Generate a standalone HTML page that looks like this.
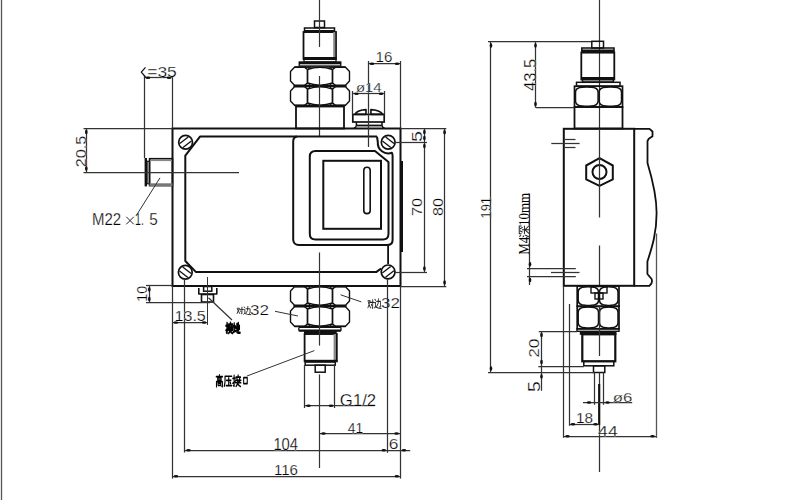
<!DOCTYPE html>
<html><head><meta charset="utf-8"><style>
html,body{margin:0;padding:0;background:#fff;width:800px;height:500px;overflow:hidden}
svg{display:block}
text{font-family:"Liberation Sans",sans-serif}
</style></head><body>
<svg width="800" height="500" viewBox="0 0 800 500">
<rect width="800" height="500" fill="#fff"/>
<line x1="1.5" y1="0" x2="1.5" y2="500" stroke="#555" stroke-width="1.3"/>
<rect x="314.5" y="21" width="10.0" height="6.5" stroke="#111" stroke-width="1.5" fill="none" rx="0"/>
<rect x="304.5" y="28" width="30.0" height="4" stroke="#111" stroke-width="1.5" fill="none" rx="0"/>
<rect x="304" y="30" width="31" height="2.5" fill="#111"/>
<rect x="303.5" y="32" width="32.5" height="27" stroke="#111" stroke-width="1.8" fill="none" rx="0"/>
<rect x="333.2" y="32" width="2.0" height="27" fill="#888"/>
<rect x="303" y="57" width="33.5" height="2.5" fill="#111"/>
<rect x="304" y="59.3" width="32" height="2.700000000000003" stroke="#111" stroke-width="1.2" fill="none" rx="0"/>
<rect x="299" y="61.8" width="42" height="2.5" fill="#111"/>
<rect x="299.2" y="62" width="41.60000000000002" height="4" stroke="#111" stroke-width="1.3" fill="none" rx="0"/>
<path d="M294.5,67.3 H304.5 L307.5,69.5 V83 L304.5,85.2 H294.5 L290.5,81 V71.5 Z" stroke="#111" stroke-width="1.4" fill="none" stroke-linejoin="round"/>
<path d="M345.5,67.3 H335.5 L332.5,69.5 V83 L335.5,85.2 H345.5 L349.5,81 V71.5 Z" stroke="#111" stroke-width="1.4" fill="none" stroke-linejoin="round"/>
<path d="M307.5,69.5 Q320.0,65.3 332.5,69.5 V83 Q320.0,87.2 307.5,83 Z" stroke="#111" stroke-width="1.4" fill="none" stroke-linejoin="round"/>
<path d="M304.5,67.3 H310.5 L307.5,69.5 Z" stroke="#111" stroke-width="1.0" fill="none" stroke-linejoin="round"/>
<path d="M304.5,85.2 H310.5 L307.5,83 Z" stroke="#111" stroke-width="1.0" fill="none" stroke-linejoin="round"/>
<path d="M329.5,67.3 H335.5 L332.5,69.5 Z" stroke="#111" stroke-width="1.0" fill="none" stroke-linejoin="round"/>
<path d="M329.5,85.2 H335.5 L332.5,83 Z" stroke="#111" stroke-width="1.0" fill="none" stroke-linejoin="round"/>
<path d="M294.5,86.8 H304.5 L307.5,89 V103 L304.5,105.2 H294.5 L290.5,101 V91 Z" stroke="#111" stroke-width="1.4" fill="none" stroke-linejoin="round"/>
<path d="M345.5,86.8 H335.5 L332.5,89 V103 L335.5,105.2 H345.5 L349.5,101 V91 Z" stroke="#111" stroke-width="1.4" fill="none" stroke-linejoin="round"/>
<path d="M307.5,89 Q320.0,84.8 332.5,89 V103 Q320.0,107.2 307.5,103 Z" stroke="#111" stroke-width="1.4" fill="none" stroke-linejoin="round"/>
<path d="M304.5,86.8 H310.5 L307.5,89 Z" stroke="#111" stroke-width="1.0" fill="none" stroke-linejoin="round"/>
<path d="M304.5,105.2 H310.5 L307.5,103 Z" stroke="#111" stroke-width="1.0" fill="none" stroke-linejoin="round"/>
<path d="M329.5,86.8 H335.5 L332.5,89 Z" stroke="#111" stroke-width="1.0" fill="none" stroke-linejoin="round"/>
<path d="M329.5,105.2 H335.5 L332.5,103 Z" stroke="#111" stroke-width="1.0" fill="none" stroke-linejoin="round"/>
<line x1="293.5" y1="86" x2="346.5" y2="86" stroke="#111" stroke-width="2.2"/>
<line x1="294.5" y1="67.0" x2="345.5" y2="67.0" stroke="#111" stroke-width="1.6"/>
<line x1="294.5" y1="105.5" x2="345.5" y2="105.5" stroke="#111" stroke-width="1.6"/>
<rect x="296" y="106.5" width="48" height="22.0" stroke="#111" stroke-width="1.8" fill="none" rx="0"/>
<line x1="319.5" y1="0" x2="319.5" y2="47" stroke="#333" stroke-width="1.2"/>
<line x1="319.5" y1="76" x2="319.5" y2="137" stroke="#333" stroke-width="1.2"/>
<rect x="172.5" y="128.5" width="228.0" height="157.5" stroke="#111" stroke-width="2.0" fill="none" rx="0"/>
<rect x="400" y="161" width="3" height="91" fill="#111"/>
<path d="M297,136.6 H200 L185.3,155.6 V261 L195.8,271.9 H376.5 L381,268.5" stroke="#111" stroke-width="2.0" fill="none" stroke-linejoin="round"/>
<path d="M377,136.6 H298 Q293.2,136.6 293.2,141.5 V239.5 Q293.4,245 299,245 H387 Q392.6,245 392.6,240 V156 Q392.6,154 391.9,152.7 A10.5,10.5 0 0 1 377.8,142 L377,136.6" stroke="#111" stroke-width="2.0" fill="none" stroke-linejoin="round"/>
<line x1="388.1" y1="245" x2="388.1" y2="264" stroke="#111" stroke-width="1.8"/>
<path d="M315.5,151 H375 L388.5,162 V234 Q388.3,239.5 383,239.5 H315.5 Q309.8,239.5 309.8,234 V156.5 Q309.8,151 315.5,151 Z" stroke="#111" stroke-width="2.0" fill="none" stroke-linejoin="round"/>
<rect x="323.3" y="160.8" width="57.69999999999999" height="68.0" stroke="#111" stroke-width="2.0" fill="none" rx="0"/>
<rect x="363.8" y="167.3" width="6.399999999999977" height="46.29999999999998" stroke="#111" stroke-width="1.6" fill="none" rx="3.2"/>
<circle cx="185.6" cy="142.3" r="6.9" stroke="#111" stroke-width="1.7" fill="none"/>
<line x1="179.79999999999998" y1="143.5" x2="188.2" y2="137.0" stroke="#111" stroke-width="1.3"/>
<line x1="183.0" y1="147.60000000000002" x2="191.4" y2="141.10000000000002" stroke="#111" stroke-width="1.3"/>
<circle cx="388.2" cy="142.3" r="6.9" stroke="#111" stroke-width="1.7" fill="none"/>
<line x1="382.4" y1="141.10000000000002" x2="390.8" y2="147.60000000000002" stroke="#111" stroke-width="1.3"/>
<line x1="385.59999999999997" y1="137.0" x2="394.0" y2="143.5" stroke="#111" stroke-width="1.3"/>
<circle cx="185.3" cy="272.2" r="6.9" stroke="#111" stroke-width="1.7" fill="none"/>
<line x1="179.5" y1="271.0" x2="187.9" y2="277.5" stroke="#111" stroke-width="1.3"/>
<line x1="182.70000000000002" y1="266.9" x2="191.10000000000002" y2="273.4" stroke="#111" stroke-width="1.3"/>
<circle cx="388.1" cy="271.9" r="6.9" stroke="#111" stroke-width="1.7" fill="none"/>
<line x1="382.3" y1="273.09999999999997" x2="390.70000000000005" y2="266.59999999999997" stroke="#111" stroke-width="1.3"/>
<line x1="385.5" y1="277.2" x2="393.90000000000003" y2="270.7" stroke="#111" stroke-width="1.3"/>
<path d="M354.8,114.4 Q357.5,109.8 366,109.6 V114.4 Z" stroke="#111" stroke-width="1.6" fill="none" stroke-linejoin="round"/>
<path d="M370.9,109.6 Q379.5,109.8 383,114.4 H370.9 Z" stroke="#111" stroke-width="1.6" fill="none" stroke-linejoin="round"/>
<rect x="352.8" y="114.4" width="31.399999999999977" height="7.599999999999994" stroke="#111" stroke-width="1.7" fill="none" rx="0"/>
<path d="M356.4,122 V125.3 Q356.2,127.5 353.8,128.3 M382,122 V125.3 Q382.2,127.5 384.6,128.3" stroke="#111" stroke-width="1.5" fill="none" stroke-linejoin="round"/>
<line x1="356.4" y1="125.5" x2="382" y2="125.5" stroke="#111" stroke-width="1.8"/>
<line x1="368.5" y1="61" x2="368.5" y2="147" stroke="#333" stroke-width="1.25"/>
<rect x="144.6" y="158" width="2.4000000000000057" height="28.400000000000006" fill="#111"/>
<rect x="147" y="161.2" width="2.5999999999999943" height="22.600000000000023" stroke="#111" stroke-width="1.1" fill="#aaa" rx="0"/>
<rect x="149.6" y="158.7" width="22.900000000000006" height="26.900000000000006" stroke="#111" stroke-width="1.6" fill="none" rx="0"/>
<line x1="150" y1="160.5" x2="172" y2="160.5" stroke="#888" stroke-width="1.2"/>
<rect x="149.6" y="183.3" width="22.900000000000006" height="2.8999999999999773" fill="#777"/>
<rect x="201.5" y="294.5" width="12.0" height="7.5" stroke="#111" stroke-width="1.6" fill="none" rx="0"/>
<path d="M198.8,288 V294 H216.8 V288" stroke="#111" stroke-width="1.6" fill="none" stroke-linejoin="round"/>
<rect x="203.6" y="286.5" width="8.200000000000017" height="4.699999999999989" stroke="#111" stroke-width="1.5" fill="none" rx="0"/>
<line x1="207.5" y1="277" x2="207.5" y2="325" stroke="#333" stroke-width="1.0"/>
<path d="M294.5,286.8 H304.5 L307.5,289 V303 L304.5,305.2 H294.5 L290.5,301 V291 Z" stroke="#111" stroke-width="1.4" fill="none" stroke-linejoin="round"/>
<path d="M345.5,286.8 H335.5 L332.5,289 V303 L335.5,305.2 H345.5 L349.5,301 V291 Z" stroke="#111" stroke-width="1.4" fill="none" stroke-linejoin="round"/>
<path d="M307.5,289 Q320.0,284.8 332.5,289 V303 Q320.0,307.2 307.5,303 Z" stroke="#111" stroke-width="1.4" fill="none" stroke-linejoin="round"/>
<path d="M304.5,286.8 H310.5 L307.5,289 Z" stroke="#111" stroke-width="1.0" fill="none" stroke-linejoin="round"/>
<path d="M304.5,305.2 H310.5 L307.5,303 Z" stroke="#111" stroke-width="1.0" fill="none" stroke-linejoin="round"/>
<path d="M329.5,286.8 H335.5 L332.5,289 Z" stroke="#111" stroke-width="1.0" fill="none" stroke-linejoin="round"/>
<path d="M329.5,305.2 H335.5 L332.5,303 Z" stroke="#111" stroke-width="1.0" fill="none" stroke-linejoin="round"/>
<path d="M294.5,306.8 H304.5 L307.5,309 V324 L304.5,326.2 H294.5 L290.5,322 V311 Z" stroke="#111" stroke-width="1.4" fill="none" stroke-linejoin="round"/>
<path d="M345.5,306.8 H335.5 L332.5,309 V324 L335.5,326.2 H345.5 L349.5,322 V311 Z" stroke="#111" stroke-width="1.4" fill="none" stroke-linejoin="round"/>
<path d="M307.5,309 Q320.0,304.8 332.5,309 V324 Q320.0,328.2 307.5,324 Z" stroke="#111" stroke-width="1.4" fill="none" stroke-linejoin="round"/>
<path d="M304.5,306.8 H310.5 L307.5,309 Z" stroke="#111" stroke-width="1.0" fill="none" stroke-linejoin="round"/>
<path d="M304.5,326.2 H310.5 L307.5,324 Z" stroke="#111" stroke-width="1.0" fill="none" stroke-linejoin="round"/>
<path d="M329.5,306.8 H335.5 L332.5,309 Z" stroke="#111" stroke-width="1.0" fill="none" stroke-linejoin="round"/>
<path d="M329.5,326.2 H335.5 L332.5,324 Z" stroke="#111" stroke-width="1.0" fill="none" stroke-linejoin="round"/>
<line x1="293.5" y1="306" x2="346.5" y2="306" stroke="#111" stroke-width="2.2"/>
<line x1="294.5" y1="286.5" x2="345.5" y2="286.5" stroke="#111" stroke-width="1.6"/>
<line x1="294.5" y1="326.5" x2="345.5" y2="326.5" stroke="#111" stroke-width="1.6"/>
<rect x="298.8" y="327.3" width="42.19999999999999" height="3.8000000000000114" stroke="#111" stroke-width="1.3" fill="none" rx="1"/>
<line x1="299" y1="330.4" x2="341" y2="330.4" stroke="#111" stroke-width="1.8"/>
<rect x="304" y="331" width="32.69999999999999" height="3.6000000000000227" fill="#111"/>
<rect x="304.6" y="334" width="32.19999999999999" height="27.19999999999999" stroke="#111" stroke-width="1.8" fill="none" rx="0"/>
<rect x="333.6" y="334" width="2.3999999999999773" height="27" fill="#888"/>
<rect x="304" y="359.8" width="33.5" height="2.3999999999999773" fill="#111"/>
<rect x="305.2" y="362" width="30.0" height="3.1999999999999886" stroke="#111" stroke-width="1.5" fill="none" rx="0"/>
<rect x="315.2" y="365.2" width="10.0" height="7.0" stroke="#111" stroke-width="1.5" fill="none" rx="0"/>
<line x1="319.5" y1="286" x2="319.5" y2="345.6" stroke="#333" stroke-width="1.2"/>
<line x1="319.5" y1="374.4" x2="319.5" y2="468" stroke="#333" stroke-width="1.2"/>
<line x1="144.5" y1="76" x2="144.5" y2="158" stroke="#333" stroke-width="1.25"/>
<line x1="172.5" y1="76" x2="172.5" y2="128.5" stroke="#333" stroke-width="1.25"/>
<line x1="144.5" y1="77.5" x2="172.3" y2="77.5" stroke="#333" stroke-width="1.25"/>
<ellipse cx="148" cy="77.8" rx="2.3" ry="1.3" fill="#111" transform="rotate(0 148 77.8)"/>
<ellipse cx="169" cy="77.8" rx="2.3" ry="1.3" fill="#111" transform="rotate(0 169 77.8)"/>
<path d="M145.5,67.3 L141.3,72.2 L145.5,77" stroke="#111" stroke-width="1.25" fill="none" stroke-linejoin="round"/>
<text x="147.29" y="76.9" font-size="14.43" fill="#000" stroke="#fff" stroke-width="0.25" text-anchor="start" font-weight="normal" textLength="29.52" lengthAdjust="spacingAndGlyphs">=35</text>
<line x1="83.5" y1="128.5" x2="172.5" y2="128.5" stroke="#333" stroke-width="1.25"/>
<line x1="83.5" y1="172.5" x2="239" y2="172.5" stroke="#333" stroke-width="1.25"/>
<line x1="86.5" y1="128.7" x2="86.5" y2="172.2" stroke="#333" stroke-width="1.25"/>
<ellipse cx="86.3" cy="132" rx="2.3" ry="1.3" fill="#111" transform="rotate(90 86.3 132)"/>
<ellipse cx="86.3" cy="168.5" rx="2.3" ry="1.3" fill="#111" transform="rotate(90 86.3 168.5)"/>
<text x="85.8" y="167.28" font-size="15.43" fill="#000" stroke="#fff" stroke-width="0.25" text-anchor="start" font-weight="normal" textLength="31.56" lengthAdjust="spacingAndGlyphs" transform="rotate(-90 85.8 167.28)">20.5</text>
<line x1="160" y1="177.8" x2="136" y2="216" stroke="#333" stroke-width="1.0"/>
<text x="91.9" y="224.5" font-size="15.71" fill="#000" stroke="#fff" stroke-width="0.25" text-anchor="start" font-weight="normal" textLength="29.2" lengthAdjust="spacingAndGlyphs">M22</text>
<path d="M126.3,216.8 L133.8,224.3 M133.8,216.8 L126.3,224.3" stroke="#222" stroke-width="1.0" fill="none" stroke-linejoin="round"/>
<text x="135.1" y="224.5" font-size="15.71" fill="#000" stroke="#fff" stroke-width="0.25" text-anchor="start" font-weight="normal" textLength="9.0" lengthAdjust="spacingAndGlyphs">1.</text>
<text x="149.2" y="224.5" font-size="15.71" fill="#000" stroke="#fff" stroke-width="0.25" text-anchor="start" font-weight="normal" textLength="8.5" lengthAdjust="spacingAndGlyphs">5</text>
<line x1="146" y1="285.5" x2="172.5" y2="285.5" stroke="#333" stroke-width="1.25"/>
<line x1="146" y1="302.5" x2="210" y2="302.5" stroke="#333" stroke-width="1.25"/>
<line x1="149.5" y1="286" x2="149.5" y2="302.3" stroke="#333" stroke-width="1.25"/>
<ellipse cx="149.3" cy="289.5" rx="2.3" ry="1.3" fill="#111" transform="rotate(90 149.3 289.5)"/>
<ellipse cx="149.3" cy="299" rx="2.3" ry="1.3" fill="#111" transform="rotate(90 149.3 299)"/>
<text x="147" y="301.7" font-size="14.29" fill="#000" stroke="#fff" stroke-width="0.25" text-anchor="start" font-weight="normal" textLength="15.7" lengthAdjust="spacingAndGlyphs" transform="rotate(-90 147 301.7)">10</text>
<line x1="172.5" y1="286" x2="172.5" y2="478.6" stroke="#333" stroke-width="1.25"/>
<line x1="184.5" y1="279" x2="184.5" y2="452.5" stroke="#333" stroke-width="1.25"/>
<line x1="172.5" y1="322.5" x2="207.5" y2="322.5" stroke="#333" stroke-width="1.25"/>
<ellipse cx="176" cy="322.5" rx="2.3" ry="1.3" fill="#111" transform="rotate(0 176 322.5)"/>
<ellipse cx="204" cy="322.5" rx="2.3" ry="1.3" fill="#111" transform="rotate(0 204 322.5)"/>
<text x="174.5" y="321" font-size="14.29" fill="#000" stroke="#fff" stroke-width="0.25" text-anchor="start" font-weight="normal" textLength="31.3" lengthAdjust="spacingAndGlyphs">13.5</text>
<line x1="208.5" y1="297.8" x2="232" y2="320" stroke="#333" stroke-width="1.2"/>
<line x1="400.5" y1="61" x2="400.5" y2="128.5" stroke="#333" stroke-width="1.25"/>
<line x1="368.5" y1="63.5" x2="400.3" y2="63.5" stroke="#333" stroke-width="1.25"/>
<ellipse cx="372" cy="63.8" rx="2.3" ry="1.3" fill="#111" transform="rotate(0 372 63.8)"/>
<ellipse cx="397" cy="63.8" rx="2.3" ry="1.3" fill="#111" transform="rotate(0 397 63.8)"/>
<text x="375.64" y="62.2" font-size="13.71" fill="#000" stroke="#fff" stroke-width="0.25" text-anchor="start" font-weight="normal" textLength="16.92" lengthAdjust="spacingAndGlyphs">16</text>
<line x1="352.5" y1="91" x2="352.5" y2="114.5" stroke="#333" stroke-width="1.25"/>
<line x1="384.5" y1="91" x2="384.5" y2="114.5" stroke="#333" stroke-width="1.25"/>
<line x1="353" y1="93.5" x2="384.4" y2="93.5" stroke="#333" stroke-width="1.25"/>
<ellipse cx="356.5" cy="93.8" rx="2.3" ry="1.3" fill="#111" transform="rotate(0 356.5 93.8)"/>
<ellipse cx="381" cy="93.8" rx="2.3" ry="1.3" fill="#111" transform="rotate(0 381 93.8)"/>
<text x="355.9" y="91.6" font-size="12.86" fill="#000" stroke="#fff" stroke-width="0.25" text-anchor="start" font-weight="normal" textLength="25.8" lengthAdjust="spacingAndGlyphs">ø14</text>
<line x1="400.5" y1="128.5" x2="446.3" y2="128.5" stroke="#333" stroke-width="1.25"/>
<line x1="395" y1="142.5" x2="427" y2="142.5" stroke="#333" stroke-width="1.25"/>
<line x1="395" y1="272.5" x2="427" y2="272.5" stroke="#333" stroke-width="1.25"/>
<line x1="400.5" y1="286.5" x2="446.3" y2="286.5" stroke="#333" stroke-width="1.25"/>
<line x1="424.5" y1="128.7" x2="424.5" y2="272.2" stroke="#333" stroke-width="1.25"/>
<ellipse cx="424.4" cy="132" rx="2.3" ry="1.3" fill="#111" transform="rotate(90 424.4 132)"/>
<ellipse cx="424.4" cy="138" rx="2.3" ry="1.3" fill="#111" transform="rotate(90 424.4 138)"/>
<ellipse cx="424.4" cy="146" rx="2.3" ry="1.3" fill="#111" transform="rotate(90 424.4 146)"/>
<ellipse cx="424.4" cy="268.5" rx="2.3" ry="1.3" fill="#111" transform="rotate(90 424.4 268.5)"/>
<line x1="444.5" y1="128.7" x2="444.5" y2="286.2" stroke="#333" stroke-width="1.25"/>
<ellipse cx="444.6" cy="132.3" rx="2.3" ry="1.3" fill="#111" transform="rotate(90 444.6 132.3)"/>
<ellipse cx="444.6" cy="282.5" rx="2.3" ry="1.3" fill="#111" transform="rotate(90 444.6 282.5)"/>
<text x="422" y="142.0" font-size="14.29" fill="#000" stroke="#fff" stroke-width="0.25" text-anchor="start" font-weight="normal" textLength="11.0" lengthAdjust="spacingAndGlyphs" transform="rotate(-90 422 142.0)">5</text>
<text x="422" y="216.0" font-size="14.29" fill="#000" stroke="#fff" stroke-width="0.25" text-anchor="start" font-weight="normal" textLength="18.0" lengthAdjust="spacingAndGlyphs" transform="rotate(-90 422 216.0)">70</text>
<text x="443" y="216.0" font-size="14.29" fill="#000" stroke="#fff" stroke-width="0.25" text-anchor="start" font-weight="normal" textLength="18.0" lengthAdjust="spacingAndGlyphs" transform="rotate(-90 443 216.0)">80</text>
<line x1="340.6" y1="294.8" x2="361.3" y2="301.9" stroke="#333" stroke-width="1.0"/>
<line x1="298" y1="316" x2="275" y2="311.3" stroke="#333" stroke-width="1.0"/>
<text x="250.12" y="314.8" font-size="15.43" fill="#000" stroke="#fff" stroke-width="0.25" text-anchor="start" font-weight="normal" textLength="18.96" lengthAdjust="spacingAndGlyphs">32</text>
<text x="380.95" y="308" font-size="15.0" fill="#000" stroke="#fff" stroke-width="0.25" text-anchor="start" font-weight="normal" textLength="18.9" lengthAdjust="spacingAndGlyphs">32</text>
<line x1="314.4" y1="350.6" x2="247" y2="376" stroke="#333" stroke-width="1.0"/>
<line x1="304.5" y1="365" x2="304.5" y2="408" stroke="#333" stroke-width="1.25"/>
<line x1="334.5" y1="365" x2="334.5" y2="408" stroke="#333" stroke-width="1.25"/>
<line x1="304.7" y1="405.5" x2="374.8" y2="405.5" stroke="#333" stroke-width="1.25"/>
<ellipse cx="308.5" cy="405.8" rx="2.3" ry="1.3" fill="#111" transform="rotate(0 308.5 405.8)"/>
<ellipse cx="331" cy="405.8" rx="2.3" ry="1.3" fill="#111" transform="rotate(0 331 405.8)"/>
<text x="339.88" y="405.6" font-size="16.0" fill="#000" stroke="#fff" stroke-width="0.25" text-anchor="start" font-weight="normal" textLength="36.24" lengthAdjust="spacingAndGlyphs">G1/2</text>
<line x1="387.5" y1="279" x2="387.5" y2="452.8" stroke="#333" stroke-width="1.25"/>
<line x1="400.5" y1="286" x2="400.5" y2="478.6" stroke="#333" stroke-width="1.25"/>
<line x1="320" y1="433.5" x2="400.3" y2="433.5" stroke="#333" stroke-width="1.25"/>
<ellipse cx="323.5" cy="433.5" rx="2.3" ry="1.3" fill="#111" transform="rotate(0 323.5 433.5)"/>
<ellipse cx="396.5" cy="433.5" rx="2.3" ry="1.3" fill="#111" transform="rotate(0 396.5 433.5)"/>
<text x="347.73" y="433.3" font-size="15.29" fill="#000" stroke="#fff" stroke-width="0.25" text-anchor="start" font-weight="normal" textLength="15.34" lengthAdjust="spacingAndGlyphs">41</text>
<line x1="185" y1="450.5" x2="410.2" y2="450.5" stroke="#333" stroke-width="1.25"/>
<ellipse cx="188.5" cy="450.2" rx="2.3" ry="1.3" fill="#111" transform="rotate(0 188.5 450.2)"/>
<ellipse cx="383.8" cy="450.2" rx="2.3" ry="1.3" fill="#111" transform="rotate(0 383.8 450.2)"/>
<ellipse cx="404" cy="450.2" rx="2.3" ry="1.3" fill="#111" transform="rotate(0 404 450.2)"/>
<text x="273.38" y="450" font-size="16.0" fill="#000" stroke="#fff" stroke-width="0.25" text-anchor="start" font-weight="normal" textLength="24.74" lengthAdjust="spacingAndGlyphs">104</text>
<line x1="172.5" y1="476.5" x2="400.3" y2="476.5" stroke="#333" stroke-width="1.25"/>
<ellipse cx="176" cy="476.2" rx="2.3" ry="1.3" fill="#111" transform="rotate(0 176 476.2)"/>
<ellipse cx="396.8" cy="476.2" rx="2.3" ry="1.3" fill="#111" transform="rotate(0 396.8 476.2)"/>
<text x="273.95" y="475" font-size="15.0" fill="#000" stroke="#fff" stroke-width="0.25" text-anchor="start" font-weight="normal" textLength="24.1" lengthAdjust="spacingAndGlyphs">116</text>
<text x="388.84" y="449.2" font-size="13.71" fill="#000" stroke="#fff" stroke-width="0.25" text-anchor="start" font-weight="normal" textLength="9.72" lengthAdjust="spacingAndGlyphs">6</text>
<line x1="319.5" y1="252.5" x2="319.5" y2="286" stroke="#333" stroke-width="1.2"/>
<g transform="translate(236.8 306.8) scale(0.6399999999999977 0.7399999999999978)"><path d="M0.5,2 H4 L0.5,9 M1.2,3.5 L4.5,9 M4.5,3.5 H10 M8,0.5 V9.5 L7,9 M5.8,5.5 L6.6,6.8" stroke="#222" stroke-width="1.3043478260869608" fill="none" stroke-linecap="round" stroke-linejoin="round"/></g>
<g transform="translate(243.4 306) scale(0.7400000000000005 0.9199999999999988)"><path d="M3.5,3 H9 V7.5 L8,8 M6,0.5 L5.6,5 L3.5,7.5 M1,1 L2,2 M0.5,4 H2 V7.5 L0.5,9 M2,8.2 Q5,9.5 10,9.5" stroke="#222" stroke-width="1.084337349397591" fill="none" stroke-linecap="round" stroke-linejoin="round"/></g>
<g transform="translate(367.6 299) scale(0.6399999999999977 0.9800000000000011)"><path d="M0.5,2 H4 L0.5,9 M1.2,3.5 L4.5,9 M4.5,3.5 H10 M8,0.5 V9.5 L7,9 M5.8,5.5 L6.6,6.8" stroke="#222" stroke-width="1.234567901234569" fill="none" stroke-linecap="round" stroke-linejoin="round"/></g>
<g transform="translate(374.2 298.2) scale(0.7 1.0800000000000012)"><path d="M3.5,3 H9 V7.5 L8,8 M6,0.5 L5.6,5 L3.5,7.5 M1,1 L2,2 M0.5,4 H2 V7.5 L0.5,9 M2,8.2 Q5,9.5 10,9.5" stroke="#222" stroke-width="1.1235955056179767" fill="none" stroke-linecap="round" stroke-linejoin="round"/></g>
<g transform="translate(226 322.3) scale(0.6800000000000012 1.1300000000000012)"><path d="M0,3 H3 M1.6,0.5 V9.5 L0.8,9 M0,7 L3,5.5 M6.6,0.3 V1.3 M4,2 H9.5 M5,3 L5.5,4 M8.6,3 L8,4 M3.5,4.6 H10 M3.5,6.6 H10 M6.2,5 Q5,8 9.5,9.7 M8.6,5 L4,9.7" stroke="#000" stroke-width="2.099447513812152" fill="none" stroke-linecap="round" stroke-linejoin="round"/></g>
<g transform="translate(233.2 322.3) scale(0.6800000000000012 1.1300000000000012)"><path d="M0,3.5 H3 M1.5,1 V8 M0,8.8 L3.5,7.5 M3.5,5 L9,3 V6 L8.4,6 M5.5,1.5 V8.5 Q5.5,9.3 10,9.2 M7.5,0.5 V7" stroke="#000" stroke-width="2.099447513812152" fill="none" stroke-linecap="round" stroke-linejoin="round"/></g>
<g transform="translate(215.9 374.8) scale(0.7 1.2)"><path d="M5,0 V1 M0.5,1.6 H9.5 M2.5,2.6 H7.5 V4.4 H2.5 Z M0.8,10 V5.6 H9.3 V10 L8.5,9.6 M3,7 H7 V8.8 H3 Z" stroke="#000" stroke-width="1.4736842105263157" fill="none" stroke-linecap="round" stroke-linejoin="round"/></g>
<g transform="translate(224.3 375.6) scale(0.7399999999999978 1.0599999999999965)"><path d="M1,0.6 H10 M1,0.6 V6 L0,10 M3,4.5 H9 M6,2 V9.2 M2.5,9.4 H10 M8,6.5 L8.6,7.5" stroke="#000" stroke-width="1.5555555555555605" fill="none" stroke-linecap="round" stroke-linejoin="round"/></g>
<g transform="translate(232.8 374.8) scale(0.8099999999999994 1.2)"><path d="M0,3 H3 M1.6,0.5 V9.5 L0.8,9 M0,7 L3,5.5 M6.6,0.3 V1.3 M4,2 H9.5 M5,3 L5.5,4 M8.6,3 L8,4 M3.5,4.6 H10 M3.5,6.6 H10 M6.2,5 Q5,8 9.5,9.7 M8.6,5 L4,9.7" stroke="#000" stroke-width="1.393034825870647" fill="none" stroke-linecap="round" stroke-linejoin="round"/></g>
<g transform="translate(243.2 377) scale(0.45 0.7300000000000011)"><path d="M1,1 H9 V9 H1 Z" stroke="#000" stroke-width="2.372881355932201" fill="none" stroke-linecap="round" stroke-linejoin="round"/></g>
<line x1="599.5" y1="0" x2="599.5" y2="128.4" stroke="#333" stroke-width="1.2"/>
<line x1="488" y1="41.5" x2="591.5" y2="41.5" stroke="#333" stroke-width="1.25"/>
<rect x="591.8" y="41.3" width="11.700000000000045" height="6.700000000000003" stroke="#111" stroke-width="1.5" fill="none" rx="0"/>
<rect x="581.8" y="48" width="32.200000000000045" height="4.5" stroke="#111" stroke-width="1.5" fill="none" rx="0"/>
<rect x="581.5" y="49.5" width="32.799999999999955" height="3.0" fill="#111"/>
<rect x="581.3" y="52.5" width="33.0" height="27.0" stroke="#111" stroke-width="1.8" fill="none" rx="0"/>
<rect x="581" y="77" width="33.60000000000002" height="2.799999999999997" fill="#111"/>
<rect x="582.5" y="79.5" width="30.799999999999955" height="2.5" stroke="#111" stroke-width="1.4" fill="none" rx="0"/>
<rect x="576.5" y="82.3" width="43.5" height="3.9000000000000057" stroke="#111" stroke-width="1.5" fill="none" rx="0"/>
<rect x="574.5" y="86.2" width="48.0" height="20.799999999999997" stroke="#111" stroke-width="1.7" fill="none" rx="0"/>
<path d="M575.5,92.2 Q575.5,87.4 582.5,87.2 Q586.8,86.7 591.1,87.2 Q598.1,87.4 598.1,92.2 V101 Q598.1,105.8 591.1,106.0 Q586.8,106.5 582.5,106.0 Q575.5,105.8 575.5,101 Z" stroke="#111" stroke-width="1.5" fill="none" stroke-linejoin="round"/>
<path d="M599.1,92.2 Q599.1,87.4 606.1,87.2 Q610.3,86.7 614.5,87.2 Q621.5,87.4 621.5,92.2 V101 Q621.5,105.8 614.5,106.0 Q610.3,106.5 606.1,106.0 Q599.1,105.8 599.1,101 Z" stroke="#111" stroke-width="1.5" fill="none" stroke-linejoin="round"/>
<rect x="574.5" y="107" width="48.0" height="21.5" stroke="#111" stroke-width="1.8" fill="none" rx="0"/>
<line x1="536" y1="107.5" x2="574.5" y2="107.5" stroke="#333" stroke-width="1.25"/>
<rect x="563.8" y="128.8" width="70.40000000000009" height="157.0" stroke="#111" stroke-width="2.0" fill="none" rx="0"/>
<path d="M634.2,128.8 H649.5 L652.5,131.5 V136.2 L648.8,138.8 L647.5,141 V163 C652,178 656.6,195 656.6,213 C656.6,235 651,250 647.4,261.5 V274 L651.6,279 Q653,283 649.5,285.8 H634.2" stroke="#111" stroke-width="1.8" fill="none" stroke-linejoin="round"/>
<path d="M599.5,158.2 L612.8,165.5 V179.4 L599.5,185.8 L586.2,179.4 V165.5 Z" stroke="#111" stroke-width="2.0" fill="none" stroke-linejoin="round"/>
<circle cx="599.5" cy="172" r="7.0" stroke="#111" stroke-width="2.0" fill="none"/>
<line x1="599.5" y1="128.4" x2="599.5" y2="217.5" stroke="#333" stroke-width="1.25"/>
<line x1="599.5" y1="245.5" x2="599.5" y2="285.8" stroke="#333" stroke-width="1.25"/>
<line x1="551.3" y1="143.5" x2="579.6" y2="143.5" stroke="#333" stroke-width="1.25"/>
<line x1="565" y1="139.5" x2="575.5" y2="139.5" stroke="#333" stroke-width="1.25"/>
<line x1="565" y1="147.5" x2="575.5" y2="147.5" stroke="#333" stroke-width="1.25"/>
<line x1="527" y1="268.5" x2="575.8" y2="268.5" stroke="#333" stroke-width="1.25"/>
<line x1="527" y1="276.5" x2="575.8" y2="276.5" stroke="#333" stroke-width="1.25"/>
<line x1="551" y1="272.5" x2="579.5" y2="272.5" stroke="#333" stroke-width="1.25"/>
<line x1="529.5" y1="193.5" x2="529.5" y2="285" stroke="#333" stroke-width="1.25"/>
<ellipse cx="530" cy="264.3" rx="2.3" ry="1.3" fill="#111" transform="rotate(90 530 264.3)"/>
<ellipse cx="530" cy="280" rx="2.3" ry="1.3" fill="#111" transform="rotate(90 530 280)"/>
<text x="529.2" y="254.86" font-size="15.14" fill="#000" stroke="#fff" stroke-width="0" text-anchor="start" font-weight="normal" textLength="18.12" lengthAdjust="spacingAndGlyphs" transform="rotate(-90 529.2 254.86)" style="font-family:Liberation Serif">M4</text>
<text x="529.2" y="226.06" font-size="15.14" fill="#000" stroke="#fff" stroke-width="0" text-anchor="start" font-weight="normal" textLength="33.32" lengthAdjust="spacingAndGlyphs" transform="rotate(-90 529.2 226.06)" style="font-family:Liberation Serif">10mm</text>
<g transform="translate(518.6 237) rotate(-90) scale(1.1 1.0600000000000023)"><path d="M0.5,1 L1.5,2 M0,4 L1,5 M0.2,9.5 L1.6,6.5 M3,2.5 V0.6 H10 V2.5 M5.5,1.6 L4.5,3.5 M7.5,1.6 L8.8,3.5 M3,5.5 H10 M6.5,3.5 V10 M6.5,6 L3.5,9.5 M6.5,6 L10,9.5" stroke="#222" stroke-width="0.9259259259259249" fill="none" stroke-linecap="round" stroke-linejoin="round"/></g>
<line x1="490.5" y1="41.7" x2="490.5" y2="372.5" stroke="#333" stroke-width="1.25"/>
<ellipse cx="491" cy="45.5" rx="2.3" ry="1.3" fill="#111" transform="rotate(90 491 45.5)"/>
<ellipse cx="491" cy="368.5" rx="2.3" ry="1.3" fill="#111" transform="rotate(90 491 368.5)"/>
<text x="490.8" y="218.55" font-size="15.0" fill="#000" stroke="#fff" stroke-width="0.25" text-anchor="start" font-weight="normal" textLength="21.6" lengthAdjust="spacingAndGlyphs" transform="rotate(-90 490.8 218.55)">191</text>
<line x1="535.5" y1="41.7" x2="535.5" y2="107.8" stroke="#333" stroke-width="1.25"/>
<ellipse cx="535.5" cy="45.5" rx="2.3" ry="1.3" fill="#111" transform="rotate(90 535.5 45.5)"/>
<ellipse cx="535.5" cy="104" rx="2.3" ry="1.3" fill="#111" transform="rotate(90 535.5 104)"/>
<text x="536" y="90.94" font-size="16.29" fill="#000" stroke="#fff" stroke-width="0.25" text-anchor="start" font-weight="normal" textLength="32.28" lengthAdjust="spacingAndGlyphs" transform="rotate(-90 536 90.94)">43.5</text>
<rect x="577.2" y="286" width="41.799999999999955" height="20.30000000000001" stroke="#111" stroke-width="1.7" fill="none" rx="0"/>
<path d="M578.2,292 Q578.2,287.2 585.2,287.0 Q588.35,286.5 591.5,287.0 Q598.5,287.2 598.5,292 V300.3 Q598.5,305.1 591.5,305.3 Q588.35,305.8 585.2,305.3 Q578.2,305.1 578.2,300.3 Z" stroke="#111" stroke-width="1.5" fill="none" stroke-linejoin="round"/>
<path d="M599.5,292 Q599.5,287.2 606.5,287.0 Q608.75,286.5 611,287.0 Q618,287.2 618,292 V300.3 Q618,305.1 611,305.3 Q608.75,305.8 606.5,305.3 Q599.5,305.1 599.5,300.3 Z" stroke="#111" stroke-width="1.5" fill="none" stroke-linejoin="round"/>
<rect x="577.2" y="306.3" width="41.799999999999955" height="22.5" stroke="#111" stroke-width="1.7" fill="none" rx="0"/>
<path d="M578.2,312.3 Q578.2,307.5 585.2,307.3 Q588.35,306.8 591.5,307.3 Q598.5,307.5 598.5,312.3 V322.8 Q598.5,327.6 591.5,327.8 Q588.35,328.3 585.2,327.8 Q578.2,327.6 578.2,322.8 Z" stroke="#111" stroke-width="1.5" fill="none" stroke-linejoin="round"/>
<path d="M599.5,312.3 Q599.5,307.5 606.5,307.3 Q608.75,306.8 611,307.3 Q618,307.5 618,312.3 V322.8 Q618,327.6 611,327.8 Q608.75,328.3 606.5,327.8 Q599.5,327.6 599.5,322.8 Z" stroke="#111" stroke-width="1.5" fill="none" stroke-linejoin="round"/>
<rect x="591" y="286.5" width="16" height="6.5" stroke="#111" stroke-width="1.4" fill="none" rx="0"/>
<rect x="595" y="293" width="8" height="6" stroke="#111" stroke-width="1.4" fill="none" rx="0"/>
<rect x="577" y="328.8" width="42" height="2.5" stroke="#111" stroke-width="1.4" fill="none" rx="0"/>
<rect x="579.8" y="331" width="36.700000000000045" height="3.8000000000000114" fill="#111"/>
<rect x="582.3" y="334.3" width="33.0" height="27.0" stroke="#111" stroke-width="2.2" fill="none" rx="0"/>
<rect x="583.8" y="361.3" width="30.0" height="4.5" stroke="#111" stroke-width="1.5" fill="none" rx="0"/>
<rect x="593.5" y="365.8" width="11.299999999999955" height="6.699999999999989" stroke="#111" stroke-width="1.5" fill="none" rx="0"/>
<line x1="599.5" y1="306" x2="599.5" y2="356" stroke="#333" stroke-width="1.25"/>
<line x1="594.5" y1="372.5" x2="594.5" y2="404.8" stroke="#333" stroke-width="1.25"/>
<line x1="603.5" y1="372.5" x2="603.5" y2="404.8" stroke="#333" stroke-width="1.25"/>
<line x1="599.5" y1="372.5" x2="599.5" y2="384" stroke="#333" stroke-width="1.25"/>
<line x1="599.2" y1="384" x2="599.2" y2="425" stroke="#111" stroke-width="2.2"/>
<line x1="599.5" y1="425" x2="599.5" y2="472" stroke="#333" stroke-width="1.25"/>
<line x1="538.8" y1="331.5" x2="577" y2="331.5" stroke="#333" stroke-width="1.25"/>
<line x1="538.3" y1="366.5" x2="583.8" y2="366.5" stroke="#333" stroke-width="1.25"/>
<line x1="488" y1="372.5" x2="594" y2="372.5" stroke="#333" stroke-width="1.25"/>
<line x1="541.5" y1="331.3" x2="541.5" y2="390.8" stroke="#333" stroke-width="1.25"/>
<ellipse cx="541.5" cy="335" rx="2.3" ry="1.3" fill="#111" transform="rotate(90 541.5 335)"/>
<ellipse cx="541.5" cy="362" rx="2.3" ry="1.3" fill="#111" transform="rotate(90 541.5 362)"/>
<ellipse cx="541.5" cy="376.5" rx="2.3" ry="1.3" fill="#111" transform="rotate(90 541.5 376.5)"/>
<text x="539.5" y="357.77" font-size="13.86" fill="#000" stroke="#fff" stroke-width="0.25" text-anchor="start" font-weight="normal" textLength="19.24" lengthAdjust="spacingAndGlyphs" transform="rotate(-90 539.5 357.77)">20</text>
<text x="539.7" y="391.92" font-size="16.0" fill="#000" stroke="#fff" stroke-width="0.25" text-anchor="start" font-weight="normal" textLength="10.74" lengthAdjust="spacingAndGlyphs" transform="rotate(-90 539.7 391.92)">5</text>
<line x1="563.5" y1="285.8" x2="563.5" y2="437.8" stroke="#333" stroke-width="1.25"/>
<line x1="569.5" y1="304" x2="569.5" y2="425.8" stroke="#333" stroke-width="1.25"/>
<line x1="583" y1="402.5" x2="632.2" y2="402.5" stroke="#333" stroke-width="1.25"/>
<ellipse cx="589" cy="402.5" rx="2.3" ry="1.3" fill="#111" transform="rotate(0 589 402.5)"/>
<ellipse cx="607.5" cy="402.5" rx="2.3" ry="1.3" fill="#111" transform="rotate(0 607.5 402.5)"/>
<text x="612.76" y="401.8" font-size="12.0" fill="#000" stroke="#fff" stroke-width="0.25" text-anchor="start" font-weight="normal" textLength="19.68" lengthAdjust="spacingAndGlyphs">ø6</text>
<line x1="569.5" y1="424.5" x2="599" y2="424.5" stroke="#333" stroke-width="1.25"/>
<ellipse cx="573" cy="424.3" rx="2.3" ry="1.3" fill="#111" transform="rotate(0 573 424.3)"/>
<ellipse cx="595.5" cy="424.3" rx="2.3" ry="1.3" fill="#111" transform="rotate(0 595.5 424.3)"/>
<text x="575.98" y="423.4" font-size="14.57" fill="#000" stroke="#fff" stroke-width="0.25" text-anchor="start" font-weight="normal" textLength="17.04" lengthAdjust="spacingAndGlyphs">18</text>
<line x1="563.8" y1="436.5" x2="656.2" y2="436.5" stroke="#333" stroke-width="1.25"/>
<ellipse cx="567.5" cy="436.3" rx="2.3" ry="1.3" fill="#111" transform="rotate(0 567.5 436.3)"/>
<ellipse cx="652.5" cy="436.3" rx="2.3" ry="1.3" fill="#111" transform="rotate(0 652.5 436.3)"/>
<text x="598.12" y="436" font-size="15.43" fill="#000" stroke="#fff" stroke-width="0.25" text-anchor="start" font-weight="normal" textLength="19.56" lengthAdjust="spacingAndGlyphs">44</text>
<line x1="656.5" y1="233.5" x2="656.5" y2="438" stroke="#555" stroke-width="1.3"/>
</svg></body></html>
